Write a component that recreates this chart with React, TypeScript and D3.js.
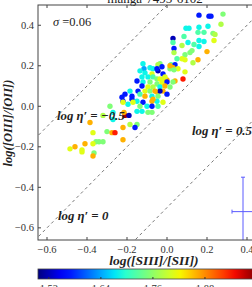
import * as d3 from "d3";

// log([SIII]/[SII]), log([OIII]/[OII]) and colour value per spaxel
const logS = [
  0.16, 0.21, 0.22, 0.28, 0.27, 0.11, 0.095, 0.16, 0.205, 0.155, 0.185, 0.085, 0.23, 0.24, 0.03,
  0.16, 0.185, 0.235, 0.03, 0.105, 0.135, 0.075, 0.16, 0.035, 0.125, 0.115, 0.035, 0.2, 0.09, 0.075,
  0.09, 0.155, 0.05, 0.13, 0.02, 0.04, 0.03, 0.055, 0.015, 0.035, 0.09, 0.08, 0.04,
  -0.035, -0.045, -0.07, -0.085, -0.12, -0.115, -0.025, -0.045, -0.135, -0.11, -0.05, -0.02, -0.075, 0.015,
  -0.125, -0.095, -0.07, -0.05, -0.035, -0.015, 0.0, -0.01, -0.15, -0.12, -0.085, -0.05, -0.025, 0.0, 0.03,
  -0.125, -0.095, -0.07, -0.035, -0.01, 0.015, -0.185, -0.145, -0.11, -0.085, -0.05, -0.02, -0.035, -0.06,
  -0.21, -0.175, -0.135, -0.11, -0.075, -0.045, 0.0, -0.225, -0.22, -0.175, -0.15, -0.12, -0.075, -0.05,
  -0.02, -0.07, -0.195, -0.135, -0.1, -0.075, -0.045, -0.17, -0.22, -0.15, -0.125, -0.095, -0.075,
  -0.21, -0.19, -0.215, -0.27, -0.27,
  -0.285, -0.32, -0.385, -0.37, -0.3, -0.275, -0.26, -0.22, -0.185, -0.15, -0.16, -0.22, -0.355, -0.34,
  -0.32, -0.37, -0.41, -0.485, -0.46, -0.425, -0.425, -0.365, -0.37,
];
const logO = [
  0.45, 0.445, 0.445, 0.455, 0.405, 0.385, 0.385, 0.39, 0.395, 0.365, 0.365, 0.345, 0.36, 0.355, 0.335,
  0.325, 0.32, 0.325, 0.315, 0.315, 0.305, 0.3, 0.295, 0.285, 0.275, 0.265, 0.265, 0.27, 0.255, 0.235,
  0.23, 0.23, 0.235, 0.215, 0.205, 0.205, 0.19, 0.185, 0.185, 0.18, 0.17, 0.135, 0.125,
  0.21, 0.205, 0.185, 0.19, 0.21, 0.185, 0.195, 0.175, 0.175, 0.165, 0.185, 0.16, 0.16, 0.2,
  0.145, 0.145, 0.145, 0.135, 0.135, 0.135, 0.13, 0.145, 0.125, 0.12, 0.12, 0.11, 0.115, 0.12, 0.12,
  0.1, 0.095, 0.095, 0.095, 0.1, 0.095, 0.075, 0.075, 0.075, 0.075, 0.07, 0.075, 0.075, 0.075,
  0.06, 0.05, 0.06, 0.05, 0.05, 0.05, 0.06, 0.045, 0.025, 0.035, 0.025, 0.02, 0.025, 0.025,
  0.02, 0.035, 0.01, 0.0, 0.0, 0.0, 0.0, 0.02, 0.02, -0.025, -0.025, -0.03, -0.03,
  -0.045, -0.045, -0.03, -0.03, -0.065,
  0.0, -0.045, -0.08, -0.13, -0.125, -0.13, -0.13, -0.105, -0.09, -0.09, -0.105, -0.165, -0.175, -0.175,
  -0.175, -0.185, -0.185, -0.21, -0.2, -0.215, -0.225, -0.23, -0.245,
];
const colorVal = [
  1.57, 1.57, 1.57, 1.75, 1.78, 1.68, 1.68, 1.68, 1.68, 1.72, 1.72, 1.72, 1.75, 1.78, 1.52,
  1.68, 1.68, 1.81, 1.72, 1.68, 1.72, 1.78, 1.68, 1.57, 1.75, 1.75, 1.78, 1.86, 1.75, 1.81,
  1.81, 1.86, 1.72, 1.78, 1.72, 1.57, 1.86, 1.81, 1.75, 1.75, 1.81, 1.94, 1.86,
  1.75, 1.78, 1.68, 1.68, 1.68, 1.64, 1.57, 1.52, 1.68, 1.68, 1.57, 1.57, 1.81, 1.86,
  1.68, 1.68, 1.72, 1.75, 1.81, 1.81, 1.86, 1.81, 1.57, 1.68, 1.75, 1.75, 1.81, 1.57, 1.75,
  1.57, 1.81, 1.78, 1.68, 1.86, 1.75, 1.68, 1.57, 1.81, 1.75, 1.86, 1.86, 1.52, 1.86,
  1.57, 1.57, 1.72, 1.86, 1.68, 1.75, 1.57, 1.57, 1.57, 1.57, 1.68, 1.57, 1.86, 1.68,
  1.81, 1.86, 1.68, 1.75, 1.68, 1.57, 1.72, 1.81, 1.81, 1.68, 1.68, 1.75, 1.75,
  1.98, 1.52, 1.86, 1.68, 1.68,
  1.75, 1.78, 1.86, 1.81, 1.75, 1.86, 1.94, 1.86, 1.78, 1.75, 1.57, 1.86, 1.75, 1.75,
  1.75, 1.81, 1.86, 1.81, 1.86, 1.81, 1.81, 1.75, 1.86,
];

const xTicks = [-0.6, -0.4, -0.2, 0.0, 0.2, 0.4];
const yTicks = [-0.6, -0.4, -0.2, 0.0, 0.2, 0.4];
const etaLevels = [-0.5, 0, 0.5];
const cbTicks = [1.52, 1.64, 1.76, 1.88];
const cbRange = [1.495, 2.0];
const errPoint = { x: 0.38, y: -0.52, dx: 0.055, dy: 0.17 };
const title = "manga-7495-6102";

const W = 252;
const H = 287;
const plot = { left: 38, right: 257, top: 5, bottom: 240 };
const cb = { top: 269, bottom: 279 };

// matplotlib "jet"
const jetR = d3.scaleLinear([0, 0.35, 0.66, 0.89, 1], [0, 0, 1, 1, 0.5]).clamp(true);
const jetG = d3.scaleLinear([0, 0.125, 0.375, 0.64, 0.91, 1], [0, 0, 1, 1, 0, 0]).clamp(true);
const jetB = d3.scaleLinear([0, 0.11, 0.34, 0.65, 1], [0.5, 1, 1, 0, 0]).clamp(true);
const jet = (t: number) =>
  d3.rgb(jetR(t) * 255, jetG(t) * 255, jetB(t) * 255).formatHex();

const fmt = (v: number) => d3.format(".1f")(v).replace("-", "\u2212");

export default function App() {
  const x = d3.scaleLinear().domain([-0.645, 0.45]).range([plot.left, plot.right]);
  const y = d3.scaleLinear().domain([-0.66, 0.5]).range([plot.bottom, plot.top]);
  const cnorm = d3.scaleLinear().domain(cbRange).range([0, 1]).clamp(true);
  const cx = d3.scaleLinear().domain(cbRange).range([plot.left, plot.right]);

  const serif = "'Liberation Serif', 'DejaVu Serif', serif";
  const axisCol = "#444";
  const gradStops = d3.range(0, 1.0001, 0.05);

  const etaLine = (k: number) =>
    d3.line<number>()
      .x((v) => x(v))
      .y((v) => y(v - k))([-1, 1]) as string;

  const mathLabel = (px: number, py: number, val: string) => (
    <text x={px} y={py} fontFamily={serif} fontSize={12.8} fontWeight="bold" fontStyle="italic" fill="#222">
      log η′ = {val}
    </text>
  );

  return (
    <svg width={W} height={H} style={{ position: "absolute", left: 0, top: 0, background: "#fff" }}>
      <defs>
        <clipPath id="axclip">
          <rect x={plot.left} y={plot.top} width={plot.right - plot.left} height={plot.bottom - plot.top} />
        </clipPath>
        <linearGradient id="jetgrad" x1="0" x2="1" y1="0" y2="0">
          {gradStops.map((t) => (
            <stop key={t} offset={t} stopColor={jet(t)} />
          ))}
        </linearGradient>
      </defs>

      <text x={155} y={3} textAnchor="middle" fontFamily={serif} fontSize={13} fill="#222">
        {title}
      </text>

      <g clipPath="url(#axclip)">
        {etaLevels.map((k) => (
          <path key={k} d={etaLine(k)} stroke="#555" strokeWidth={0.8} strokeDasharray="3,3" fill="none" />
        ))}
        {logS.map((v, i) => (
          <circle key={i} cx={x(v)} cy={y(logO[i])} r={2.7} fill={jet(cnorm(colorVal[i]))} />
        ))}
        <g stroke="#5a5aff" strokeWidth={1}>
          <line x1={x(errPoint.x)} x2={x(errPoint.x)} y1={y(errPoint.y + errPoint.dy)} y2={y(errPoint.y - errPoint.dy)} />
          <line x1={x(errPoint.x - errPoint.dx)} x2={x(errPoint.x + errPoint.dx)} y1={y(errPoint.y)} y2={y(errPoint.y)} />
          <line x1={x(errPoint.x) - 2} x2={x(errPoint.x) + 2} y1={y(errPoint.y + errPoint.dy)} y2={y(errPoint.y + errPoint.dy)} />
          <line x1={x(errPoint.x - errPoint.dx)} x2={x(errPoint.x - errPoint.dx)} y1={y(errPoint.y) - 2} y2={y(errPoint.y) + 2} />
        </g>
      </g>

      {mathLabel(57, 120, "\u22120.5")}
      {mathLabel(192, 135, "0.5")}
      {mathLabel(58, 220, "0")}
      <text x={53} y={26} fontFamily={serif} fontSize={12.5} fill="#222">
        <tspan fontStyle="italic">σ</tspan> =0.06
      </text>

      {/* frame and ticks */}
      <rect x={plot.left} y={plot.top} width={plot.right - plot.left} height={plot.bottom - plot.top}
        fill="none" stroke={axisCol} strokeWidth={1} />
      {xTicks.map((t) => (
        <g key={"x" + t}>
          <line x1={x(t)} x2={x(t)} y1={plot.bottom} y2={plot.bottom - 3} stroke={axisCol} />
          <line x1={x(t)} x2={x(t)} y1={plot.top} y2={plot.top + 3} stroke={axisCol} />
          <text x={x(t)} y={252.5} textAnchor="middle" fontFamily={serif} fontSize={10.5} fill="#333">
            {fmt(t)}
          </text>
        </g>
      ))}
      {yTicks.map((t) => (
        <g key={"y" + t}>
          <line x1={plot.left} x2={plot.left + 3} y1={y(t)} y2={y(t)} stroke={axisCol} />
          <text x={34} y={y(t) + 3.6} textAnchor="end" fontFamily={serif} fontSize={10.5} fill="#333">
            {fmt(t)}
          </text>
        </g>
      ))}

      <text x={154} y={265} textAnchor="middle" fontFamily={serif} fontSize={13.5} fontWeight="bold" fontStyle="italic" fill="#222">
        log([SIII]/[SII])
      </text>
      <text transform={`translate(11.5,123) rotate(-90)`} textAnchor="middle" fontFamily={serif} fontSize={12.5}
        fontWeight="bold" fontStyle="italic" fill="#222">
        log([OIII]/[OII])
      </text>

      {/* colorbar */}
      <rect x={plot.left} y={cb.top} width={plot.right - plot.left} height={cb.bottom - cb.top}
        fill="url(#jetgrad)" stroke={axisCol} strokeWidth={0.8} />
      {cbTicks.map((t) => (
        <g key={"c" + t}>
          <line x1={cx(t)} x2={cx(t)} y1={cb.bottom} y2={cb.bottom - 2} stroke="#333" />
          <text x={cx(t)} y={291.5} textAnchor="middle" fontFamily={serif} fontSize={10.5} fill="#333">
            {t.toFixed(2)}
          </text>
        </g>
      ))}
    </svg>
  );
}
